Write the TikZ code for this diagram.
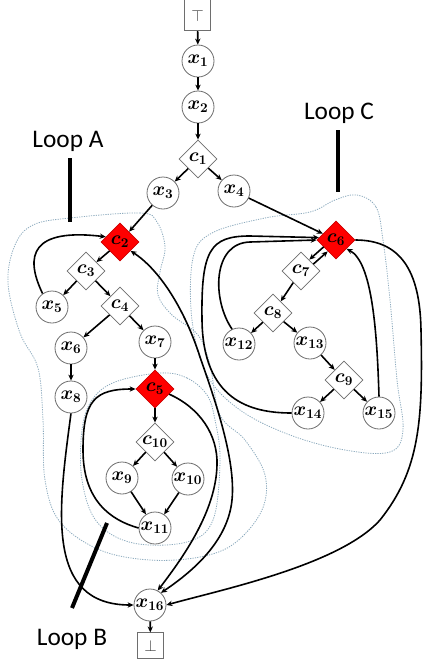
\documentclass[tikz,border=0pt]{standalone}
\usepackage{fontspec}
\newfontfamily\looplabelfont{Carlito}
\usetikzlibrary{arrows.meta,shapes.geometric}
\definecolor{loopcol}{RGB}{140,170,190}
\definecolor{nodeline}{RGB}{110,110,110}

\begin{document}
\begin{tikzpicture}[x=0.75pt,y=-0.75pt,
  every node/.style={inner sep=0pt},
  var/.style={circle,draw=nodeline,line width=0.6pt,fill=white,minimum size=24pt,
    font=\fontsize{14}{16}\selectfont\boldmath},
  cond/.style={diamond,draw=nodeline,line width=0.6pt,fill=white,minimum size=28.5pt,
    font=\fontsize{14}{16}\selectfont\boldmath},
  hot/.style={cond,fill=red,draw=red!80!black},
  term/.style={rectangle,draw=nodeline,line width=0.6pt,fill=white,minimum width=19pt,
    text=black!75,font=\fontsize{12}{14}\selectfont},
  arr/.style={-{Stealth[length=4.5pt,width=4pt]},line width=1.2pt},
  biarr/.style={{Stealth[length=4.5pt,width=4pt]}-{Stealth[length=4.5pt,width=4pt]},line width=1.2pt},
  loopline/.style={draw=loopcol,line width=0.6pt,dash pattern=on 0.9pt off 0.9pt},
  marker/.style={line width=3pt},
  looplabel/.style={font=\looplabelfont\fontsize{19}{23}\selectfont,anchor=base}]

\useasboundingbox (0,0) rectangle (425,661);
\fill[white] (0,0) rectangle (425,661);

% loop regions
\draw[loopline] plot[smooth cycle,tension=0.6] coordinates {
  (70,218) (140,213) (157,222) (165,247) (160,272) (158,295) (172,315) (198,335)
  (210,365) (220,415) (245,440) (265,475) (262,510) (235,543) (200,557) (150,560)
  (100,550) (60,522) (45,480) (43,420) (38,368) (20,333) (8,283) (15,245) (33,225)};
\draw[loopline] plot[smooth cycle,tension=0.6] coordinates {
  (160,373) (187,378) (207,395) (215,420) (220,460) (213,520) (187,542) (133,543)
  (97,522) (82,480) (82,430) (92,400) (115,382)};
\draw[loopline] plot[smooth cycle,tension=0.6] coordinates {
  (357,195) (376,207) (383,240) (390,300) (397,380) (403,430) (390,452) (345,450)
  (290,435) (240,410) (207,375) (192,320) (193,258) (212,233) (265,218) (310,212)
  (335,200)};

% nodes (the entry box runs past the top edge)
\node[term,anchor=south,minimum height=26pt,text height=12pt,text depth=0pt]
  (top) at (197.5,31) {$\top$};
\node[var] (x1) at (198,61) {$x_1$};
\node[var] (x2) at (198,107) {$x_2$};
\node[cond] (c1) at (198,159) {$c_1$};
\node[var] (x3) at (163,193) {$x_3$};
\node[var] (x4) at (234,191) {$x_4$};
\node[hot] (c2) at (120,242) {$c_2$};
\node[cond] (c3) at (86,271) {$c_3$};
\node[var] (x5) at (52,307) {$x_5$};
\node[cond] (c4) at (120,306) {$c_4$};
\node[var] (x6) at (71,348) {$x_6$};
\node[var] (x7) at (155,342) {$x_7$};
\node[var] (x8) at (71,397) {$x_8$};
\node[hot] (c5) at (155,389) {$c_5$};
\node[cond] (c10) at (155,442) {$c_{10}$};
\node[var] (x9) at (122,478) {$x_9$};
\node[var] (x10) at (188,479) {$x_{10}$};
\node[var] (x11) at (155,528) {$x_{11}$};
\node[var] (x16) at (150,605) {$x_{16}$};
\node[term,minimum height=19pt] (bot) at (150.5,645.5) {$\bot$};
\node[hot] (c6) at (336,240) {$c_6$};
\node[cond] (c7) at (301,271) {$c_7$};
\node[cond] (c8) at (273,313) {$c_8$};
\node[var] (x12) at (239,344) {$x_{12}$};
\node[var] (x13) at (310,343) {$x_{13}$};
\node[cond] (c9) at (344,380) {$c_9$};
\node[var] (x14) at (308,413) {$x_{14}$};
\node[var] (x15) at (379,413) {$x_{15}$};

% straight edges
\draw[arr] (top) -- (x1);
\draw[arr] (x1) -- (x2);
\draw[arr] (x2) -- (c1);
\draw[arr] (c1) -- (x3);
\draw[arr] (c1) -- (x4);
\draw[arr] (x3) -- (c2);
\draw[arr] (x4) -- (c6);
\draw[arr] (c2) -- (c3);
\draw[arr] (c3) -- (x5);
\draw[arr] (c3) -- (c4);
\draw[arr] (c4) -- (x6);
\draw[arr] (c4) -- (x7);
\draw[arr] (x6) -- (x8);
\draw[arr] (x7) -- (c5);
\draw[arr] (c5) -- (c10);
\draw[arr] (c10) -- (x9);
\draw[arr] (c10) -- (x10);
\draw[arr] (x9) -- (x11);
\draw[arr] (x10) -- (x11);
\draw[arr] (x16) -- (bot);
\draw[arr,transform canvas={xshift=-1.5pt,yshift=1.7pt}] (c6) -- (c7);
\draw[arr,transform canvas={xshift=1.5pt,yshift=-1.7pt}] (c7) -- (c6);
\draw[arr] (c7) -- (c8);
\draw[arr] (c8) -- (x12);
\draw[arr] (c8) -- (x13);
\draw[arr] (x13) -- (c9);
\draw[arr] (c9) -- (x14);
\draw[arr] (c9) -- (x15);

% curved edges
\draw[arr] (x5.125) .. controls (24,255) and (32,228) .. (c2.160);
\draw[arr] (x11.west) .. controls (110,520) and (83,500) .. (83,450)
  .. controls (83,400) and (95,389) .. (c5.west);
\draw[arr] (x8.south) .. controls (58,510) and (45,605) .. (x16.west);
\draw[arr] (c5.-20) .. controls (200,408) and (218,435) .. (217,465)
  .. controls (216,510) and (185,555) .. (x16.62);
\draw[biarr] (c2.-40) .. controls (160,270) and (185,310) .. (200,357)
  .. controls (215,400) and (236,460) .. (232,500)
  .. controls (228,540) and (195,570) .. (x16.48);
\draw[arr] (x12.115) .. controls (212,300) and (212,243) .. (250,242) -- (c6.west);
\draw[arr] (x14.west) .. controls (250,413) and (203,400) .. (202,320)
  .. controls (201,250) and (210,236) .. (250,236) -- (c6.172);
\draw[arr] (x15.north) .. controls (377,330) and (372,262) .. (c6.-40);
\draw[arr] (c6.east) .. controls (400,240) and (420,270) .. (421,330)
  .. controls (423,420) and (420,470) .. (380,520)
  .. controls (340,565) and (220,590) .. (x16.east);

% loop labels with their pointer bars
\node[looplabel] (labA) at (68,147) {Loop A};
\node[looplabel] (labC) at (339,119) {Loop C};
\node[looplabel] (labB) at (72,645) {Loop B};
\coordinate (pa1) at (70,158);
\coordinate (pa2) at (70,222);
\coordinate (pc1) at (338,130);
\coordinate (pc2) at (338,192);
\coordinate (pb1) at (107,523);
\coordinate (pb2) at (72,608);
\draw[marker] (pa1) -- (pa2);
\draw[marker] (pc1) -- (pc2);
\draw[marker] (pb1) -- (pb2);
\end{tikzpicture}
\end{document}
